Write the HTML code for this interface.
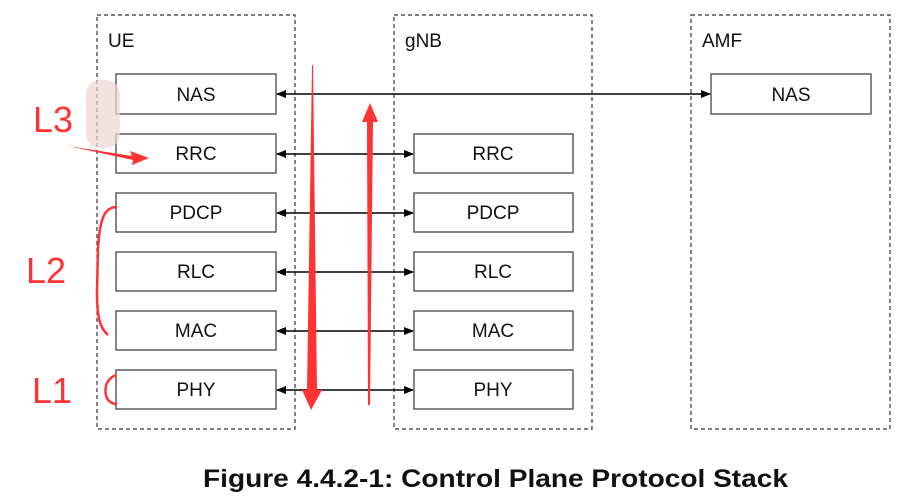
<!DOCTYPE html>
<html><head><meta charset="utf-8"><style>
body{margin:0;background:#fff;}
svg{display:block;}
text{font-family:"Liberation Sans",sans-serif;}
</style></head><body>
<svg width="910" height="496" viewBox="0 0 910 496" xmlns="http://www.w3.org/2000/svg">
<defs>
<marker id="a" markerWidth="10" markerHeight="8" refX="9" refY="4" orient="auto" markerUnits="userSpaceOnUse"><path d="M0,0 L10,4 L0,8 z" fill="#000"/></marker>
<marker id="b" markerWidth="10" markerHeight="8" refX="1" refY="4" orient="auto" markerUnits="userSpaceOnUse"><path d="M10,0 L0,4 L10,8 z" fill="#000"/></marker>
</defs>
<g fill="none" stroke="#333" stroke-width="1.2" stroke-dasharray="4,3">
<rect x="97" y="15" width="198" height="414"/>
<rect x="394" y="15" width="198" height="414"/>
<rect x="691" y="15" width="199" height="414"/>
</g>
<g font-size="19" fill="#111">
<text x="108" y="47">UE</text>
<text x="405" y="47">gNB</text>
<text x="702" y="47">AMF</text>
</g>
<g fill="#fff" stroke="#444" stroke-width="1.3">
<rect x="116" y="74" width="160" height="40"/>
<rect x="116" y="134" width="160" height="39"/>
<rect x="116" y="193" width="160" height="39"/>
<rect x="116" y="252" width="160" height="39"/>
<rect x="116" y="311" width="160" height="39"/>
<rect x="116" y="370" width="160" height="39"/>
<rect x="414" y="134" width="159" height="39"/>
<rect x="414" y="193" width="159" height="39"/>
<rect x="414" y="252" width="159" height="39"/>
<rect x="414" y="311" width="159" height="39"/>
<rect x="414" y="370" width="159" height="39"/>
<rect x="711" y="74" width="160" height="40"/>
</g>
<g font-size="19" fill="#111" text-anchor="middle">
<text x="196" y="101">NAS</text>
<text x="196" y="160">RRC</text>
<text x="196" y="219">PDCP</text>
<text x="196" y="278">RLC</text>
<text x="196" y="337">MAC</text>
<text x="196" y="396">PHY</text>
<text x="493" y="160">RRC</text>
<text x="493" y="219">PDCP</text>
<text x="493" y="278">RLC</text>
<text x="493" y="337">MAC</text>
<text x="493" y="396">PHY</text>
<text x="791" y="101">NAS</text>
</g>
<g stroke="#000" stroke-width="1.6" marker-start="url(#b)" marker-end="url(#a)">
<line x1="277" y1="94" x2="710" y2="94"/>
<line x1="277" y1="154" x2="413" y2="154"/>
<line x1="277" y1="213" x2="413" y2="213"/>
<line x1="277" y1="272" x2="413" y2="272"/>
<line x1="277" y1="331" x2="413" y2="331"/>
<line x1="277" y1="390" x2="413" y2="390"/>
</g>
<path d="M312,65 L313,65 L317,390 L322,390 L311,410 L302,390 L307,390 Z" fill="#f33"/>
<path d="M368,405 L370,405 L373,122 L378,122 L370,103 L362,122 L367,122 Z" fill="#f33"/>
<path d="M68,146 L132,156 L130,151 L149,158 L132,165 L133,160 Z" fill="#f33"/>
<rect x="86" y="80" width="34" height="68" rx="14" fill="#f0d4d4" opacity="0.7"/>
<g font-size="36" fill="#f33">
<text x="33" y="132">L3</text>
<text x="26" y="283">L2</text>
<text x="32" y="403">L1</text>
</g>
<g fill="none" stroke="#f33" stroke-width="2.5">
<path d="M117,207 C106,207 100,215 98,248 L97,292 C97,318 100,328 108,335"/>
<path d="M116,375 C108,378 104,386 106,395 C107,401 112,404 117,404"/>
</g>
<text x="203" y="487" textLength="585" lengthAdjust="spacingAndGlyphs" font-size="25" font-weight="bold" fill="#111">Figure 4.4.2-1: Control Plane Protocol Stack</text>
</svg>
</body></html>
